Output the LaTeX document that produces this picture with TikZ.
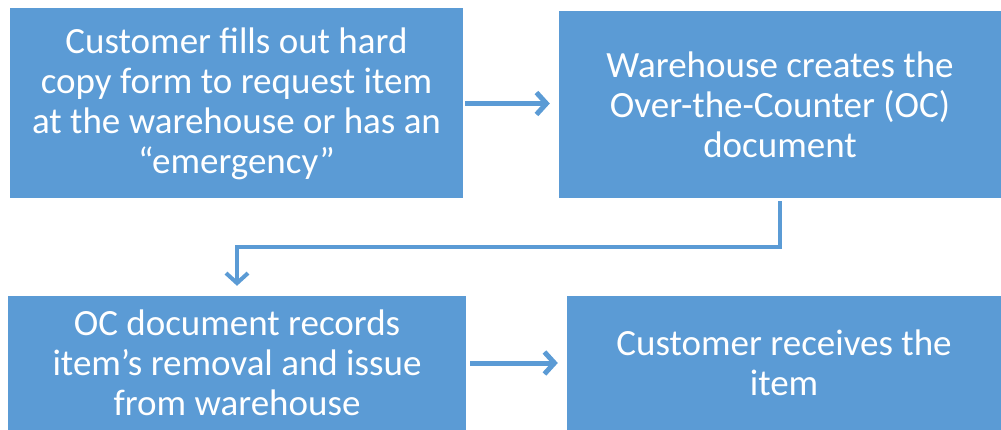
\documentclass[tikz,border=0pt]{standalone}
\usepackage{fontspec}
\setmainfont{Carlito}
\usetikzlibrary{arrows.meta}

\definecolor{officeblue}{HTML}{5B9BD5}

\tikzset{
  stepbox/.style={fill=officeblue, draw=none, inner sep=0pt, text=white,
    align=center, font=\fontsize{37}{40}\selectfont},
  flowarrow/.style={draw=officeblue, line width=5pt,
    -{Straight Barb[length=10pt,width=22pt]}}
}

\begin{document}
\begin{tikzpicture}[x=1pt,y=-1pt]
% Page size
\useasboundingbox (0,0) rectangle (1001,430);

% The four steps
\node[stepbox, minimum width=453pt, minimum height=190pt] (request) at (236.5,103.5)
  {Customer fills out hard\\copy form to request item\\at the warehouse or has an\\“emergency”};
\node[stepbox, minimum width=442pt, minimum height=187pt] (ocdoc) at (780,104.5)
  {Warehouse creates the\\Over-the-Counter (OC)\\document};
\node[stepbox, minimum width=458pt, minimum height=134pt] (record) at (237,363)
  {OC document records\\item’s removal and issue\\from warehouse};
\node[stepbox, minimum width=434pt, minimum height=134pt] (receive) at (784,363)
  {Customer receives the\\item};

% Connectors between the steps
\draw[flowarrow, shorten <=2pt, shorten >=9pt] (request.east) -- (request.east -| ocdoc.west);
\draw[flowarrow, line width=4pt, shorten <=3pt, shorten >=10pt]
  (ocdoc.south) -- ++(0,49) -| (record.north);
\draw[flowarrow, shorten <=4pt, shorten >=9pt] (record.east) -- (record.east -| receive.west);

\end{tikzpicture}
\end{document}
